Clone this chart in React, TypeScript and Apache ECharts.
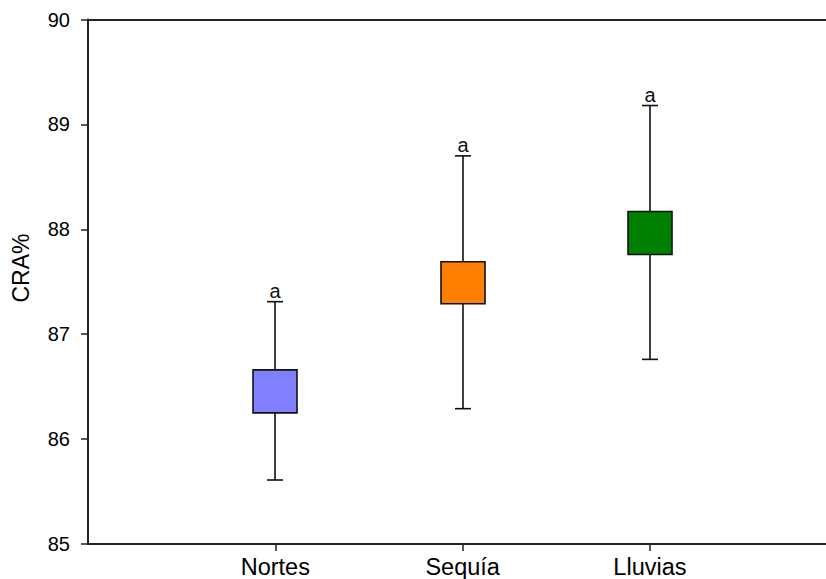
import React, { useEffect, useRef } from "react";
import * as echarts from "echarts";

const categories = ["Nortes", "Sequía", "Lluvias"];
const positions = [1, 2, 3];
const whiskerLow = [85.61, 86.29, 86.76];
const boxLow = [86.25, 87.29, 87.76];
const boxHigh = [86.66, 87.69, 88.17];
const whiskerHigh = [87.31, 88.7, 89.18];
const groupLetters = ["a", "a", "a"];
const boxColors = ["#8080FF", "#FF8000", "#008000"];
const yTicks = [85, 86, 87, 88, 89, 90];
const xMin = 0;
const xMax = 3.94;

const FONT = "'Liberation Sans', Arial, sans-serif";

export default function App() {
  const ref = useRef<HTMLDivElement>(null);
  useEffect(() => {
    document.body.style.margin = "0";
    if (!ref.current) return;
    const chart = echarts.init(ref.current, undefined, { renderer: "svg" });
    const data = positions.map((p, i) => [p, whiskerLow[i], boxLow[i], boxHigh[i], whiskerHigh[i], i]);
    chart.setOption({
      animation: false,
      backgroundColor: "#ffffff",
      grid: { left: 88, right: 0, top: 19.5, bottom: 33.5 },
      xAxis: [
        {
          type: "value",
          min: xMin,
          max: xMax,
          interval: 1,
          position: "bottom",
          axisLine: { show: true, onZero: false, lineStyle: { color: "#222", width: 2 } },
          axisTick: { show: true, customValues: positions, length: 7, lineStyle: { color: "#222", width: 1.5 } },
          axisLabel: {
            show: true,
            customValues: positions,
            formatter: (v: number) => categories[positions.indexOf(Math.round(v))] ?? "",
            fontSize: 23.5,
            color: "#000",
            fontFamily: FONT,
            margin: 11,
          },
          splitLine: { show: false },
        },
        {
          type: "value",
          min: xMin,
          max: xMax,
          position: "top",
          axisLine: { show: true, onZero: false, lineStyle: { color: "#222", width: 2 } },
          axisTick: { show: false },
          axisLabel: { show: false },
          splitLine: { show: false },
        },
      ],
      yAxis: {
        type: "value",
        min: yTicks[0],
        max: yTicks[yTicks.length - 1],
        interval: 1,
        axisLine: { show: true, onZero: false, lineStyle: { color: "#222", width: 2 } },
        axisTick: { show: true, length: 7, lineStyle: { color: "#222", width: 1.5 } },
        axisLabel: { fontSize: 20, color: "#000", fontFamily: FONT, margin: 18 },
        splitLine: { show: false },
      },
      graphic: [
        {
          type: "text",
          x: 21,
          y: 268,
          rotation: Math.PI / 2,
          style: {
            text: "CRA%",
            fontSize: 23,
            fontFamily: FONT,
            fill: "#000",
            align: "center",
            verticalAlign: "middle",
          },
        },
      ],
      series: [
        {
          type: "custom",
          xAxisIndex: 0,
          yAxisIndex: 0,
          data,
          encode: { x: 0, y: [1, 2, 3, 4] },
          renderItem: (params: any, api: any) => {
            const x = api.value(0);
            const idx = api.value(5);
            const pLo = api.coord([x, api.value(1)]);
            const pQ1 = api.coord([x, api.value(2)]);
            const pQ3 = api.coord([x, api.value(3)]);
            const pHi = api.coord([x, api.value(4)]);
            const cx = Math.round(pLo[0]);
            const boxW = 44;
            const capW = 16;
            const stroke = { stroke: "#111", lineWidth: 1.6 };
            return {
              type: "group",
              children: [
                { type: "line", shape: { x1: cx, y1: pHi[1], x2: cx, y2: pLo[1] }, style: stroke },
                { type: "line", shape: { x1: cx - capW / 2, y1: pHi[1], x2: cx + capW / 2, y2: pHi[1] }, style: stroke },
                { type: "line", shape: { x1: cx - capW / 2, y1: pLo[1], x2: cx + capW / 2, y2: pLo[1] }, style: stroke },
                {
                  type: "rect",
                  shape: { x: cx - boxW / 2, y: pQ3[1], width: boxW, height: pQ1[1] - pQ3[1] },
                  style: { fill: boxColors[idx], stroke: "#111", lineWidth: 1.6 },
                },
                {
                  type: "text",
                  x: cx,
                  y: pHi[1] - 1,
                  style: {
                    text: groupLetters[idx],
                    fontSize: 20,
                    fontFamily: FONT,
                    fill: "#111",
                    align: "center",
                    verticalAlign: "bottom",
                  },
                },
              ],
            };
          },
        },
      ],
    });
    return () => chart.dispose();
  }, []);
  return <div ref={ref} style={{ width: 826, height: 579 }} />;
}
